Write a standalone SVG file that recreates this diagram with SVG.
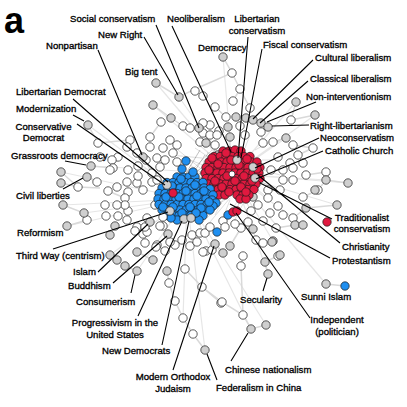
<svg xmlns="http://www.w3.org/2000/svg" width="407" height="407" viewBox="0 0 407 407">
<style>
.e{stroke:#d9d9d9;stroke-width:1.5;fill:none}
.f{stroke:#e6e6e6;stroke-width:1.2;fill:none}
.h{stroke:#333;stroke-opacity:0.16;stroke-width:1;fill:none}
circle{stroke:#1a1a1a;stroke-width:0.7}
.w{fill:#fff}
.g{fill:#cfcfcf}
.r{fill:#e0193f}
.b{fill:#1f8ff0}
.ld{stroke:#000;stroke-width:1.1;fill:none}
text{font-family:"Liberation Sans",Arial,sans-serif;font-size:9.6px;fill:#000;stroke:#000;stroke-width:0.32}
.c{text-anchor:middle}
</style>
<rect width="407" height="407" fill="#fff"/>
<g id="edges">
<path class="f" d="M233,174L156,83M233,174L223,57M233,174L296,102M233,174L315,115M233,174L326,180M233,174L348,183M233,174L337,205M233,174L326,284M187,199L61,172M187,199L63,205M187,199L88,125M187,199L110,255M187,199L183,318M187,199L205,350M187,199L251,329M187,199L67,226M233,174L286,138M233,174L303,225M187,199L137,271M233,174L268,274M233,174L153,105M233,174L91,166M187,199L266,325M233,174L273,241M187,199L84,213M233,174L179,97"/>
<path class="e" d="M156,83L179,97L193,90L232,73L223,57M232,73L240,89L250,108M153,105L171,118L183,126M199,128L218,155M88,125L98,143L130,140M91,166L113,168M87,177L97,182M61,172L78,187M61,183L78,187L100,188M63,205L84,213L87,220M67,226L87,220M110,235L115,226M137,252L153,260M110,255L117,260L125,266L137,271M167,271L169,283L175,301L183,318L193,334L205,350M185,269L202,287L222,302L243,315L251,329L266,325M268,274L265,262L280,255M326,284L345,286M296,102L291,120M315,115L291,120M313,148L298,155M348,183L326,180L318,190M337,205L306,208M295,225L276,228M303,225L293,218M273,241L263,243M233,101L240,89M215,107L226,117M161,122L150,137M130,140L127,147M118,157L100,157M112,160L110,170M143,157L152,173M125,198L108,191M147,218L150,222M157,245L165,251M190,246L197,242M203,252L212,250M215,244L223,252M230,246L241,228M256,240L263,243M278,256L280,255M243,256L241,266M221,303L202,287M306,175L326,172M293,145L313,148M286,138L273,142M261,132L263,143M271,170L283,170M303,197L318,190M280,190L268,190M306,208L293,218M253,229L241,228M241,266L243,315"/>
</g>
<g id="haze">
<path class="h" d="M207,160L200,195M210,165L195,185M205,170L205,200M212,175L190,190M215,158L185,180M210,185L198,205M220,190L205,205M218,180L210,210M205,155L190,178M200,150L185,175M215,150L200,175M208,178L180,190M225,195L215,215M230,200L222,220M240,200L235,215M245,198L250,210M250,195L262,205M258,190L270,200M262,182L275,190M263,170L280,175M262,160L278,160M255,150L268,143M245,148L250,135M230,148L228,135M218,152L210,140M210,158L195,148M203,165L185,158M205,175L190,165M200,180L188,172M225,200L200,215M212,190L182,205M214,167L175,200M220,185L165,195M222,160L180,185M226,170L195,205M202,158L170,155M205,148L200,140M200,168L178,150"/>
<path class="h" d="M207,160L200,195M210,165L195,185M205,170L205,200M212,175L190,190M215,158L185,180M210,185L198,205M220,190L205,205M218,180L210,210M205,155L190,178M200,150L185,175M212,150L192,170M208,152L196,186M203,160L210,200M215,170L180,178M218,163L196,198M225,155L205,190M230,198L210,222M238,200L220,230M222,203L200,225M245,200L232,225"/>
</g>
<g id="outer-nodes">
<circle class="w" cx="232" cy="73" r="4.2"/><circle class="w" cx="240" cy="89" r="4.2"/><circle class="w" cx="195" cy="91" r="4.2"/><circle class="w" cx="203" cy="96" r="4.2"/><circle class="w" cx="215" cy="107" r="4.2"/><circle class="w" cx="233" cy="101" r="4.2"/><circle class="w" cx="226" cy="117" r="4.2"/><circle class="w" cx="250" cy="108" r="4.2"/><circle class="w" cx="210" cy="125" r="4.2"/><circle class="w" cx="219" cy="131" r="4.2"/><circle class="w" cx="161" cy="122" r="4.2"/><circle class="w" cx="183" cy="126" r="4.2"/><circle class="w" cx="190" cy="128" r="4.2"/><circle class="w" cx="203" cy="123" r="4.2"/><circle class="w" cx="240" cy="126" r="4.2"/><circle class="w" cx="245" cy="135" r="4.2"/><circle class="w" cx="203" cy="133" r="4.2"/><circle class="w" cx="210" cy="135" r="4.2"/><circle class="w" cx="217" cy="135" r="4.2"/><circle class="w" cx="200" cy="142" r="4.2"/><circle class="w" cx="215" cy="145" r="4.2"/><circle class="w" cx="170" cy="140" r="4.2"/><circle class="w" cx="177" cy="145" r="4.2"/><circle class="w" cx="163" cy="148" r="4.2"/><circle class="w" cx="173" cy="153" r="4.2"/><circle class="w" cx="157" cy="158" r="4.2"/><circle class="w" cx="165" cy="160" r="4.2"/><circle class="w" cx="177" cy="162" r="4.2"/><circle class="w" cx="160" cy="167" r="4.2"/><circle class="w" cx="150" cy="147" r="4.2"/><circle class="w" cx="150" cy="137" r="4.2"/><circle class="w" cx="130" cy="140" r="4.2"/><circle class="w" cx="98" cy="143" r="4.2"/><circle class="w" cx="127" cy="147" r="4.2"/><circle class="w" cx="118" cy="157" r="4.2"/><circle class="w" cx="137" cy="153" r="4.2"/><circle class="w" cx="100" cy="157" r="4.2"/><circle class="w" cx="112" cy="160" r="4.2"/><circle class="w" cx="138" cy="166" r="4.2"/><circle class="w" cx="113" cy="168" r="4.2"/><circle class="w" cx="128" cy="170" r="4.2"/><circle class="w" cx="152" cy="173" r="4.2"/><circle class="w" cx="110" cy="170" r="4.2"/><circle class="w" cx="78" cy="187" r="4.2"/><circle class="w" cx="97" cy="182" r="4.2"/><circle class="w" cx="127" cy="182" r="4.2"/><circle class="w" cx="137" cy="183" r="4.2"/><circle class="w" cx="152" cy="182" r="4.2"/><circle class="w" cx="143" cy="190" r="4.2"/><circle class="w" cx="108" cy="191" r="4.2"/><circle class="w" cx="117" cy="187" r="4.2"/><circle class="w" cx="128" cy="192" r="4.2"/><circle class="w" cx="125" cy="198" r="4.2"/><circle class="w" cx="157" cy="180" r="4.2"/><circle class="w" cx="138" cy="176" r="4.2"/><circle class="w" cx="146" cy="160" r="4.2"/>
<circle class="w" cx="291" cy="120" r="4.2"/><circle class="w" cx="261" cy="132" r="4.2"/><circle class="w" cx="273" cy="142" r="4.2"/><circle class="w" cx="263" cy="143" r="4.2"/><circle class="w" cx="293" cy="145" r="4.2"/><circle class="w" cx="313" cy="148" r="4.2"/><circle class="w" cx="278" cy="157" r="4.2"/><circle class="w" cx="298" cy="155" r="4.2"/><circle class="w" cx="290" cy="163" r="4.2"/><circle class="w" cx="303" cy="163" r="4.2"/><circle class="w" cx="271" cy="170" r="4.2"/><circle class="w" cx="283" cy="170" r="4.2"/><circle class="w" cx="293" cy="168" r="4.2"/><circle class="w" cx="306" cy="175" r="4.2"/><circle class="w" cx="318" cy="190" r="4.2"/><circle class="w" cx="283" cy="180" r="4.2"/><circle class="w" cx="293" cy="180" r="4.2"/><circle class="w" cx="280" cy="190" r="4.2"/><circle class="w" cx="303" cy="197" r="4.2"/><circle class="w" cx="268" cy="190" r="4.2"/><circle class="w" cx="326" cy="172" r="4.2"/><circle class="w" cx="278" cy="206" r="4.2"/><circle class="w" cx="270" cy="213" r="4.2"/><circle class="w" cx="283" cy="215" r="4.2"/><circle class="w" cx="293" cy="218" r="4.2"/><circle class="w" cx="263" cy="221" r="4.2"/><circle class="w" cx="276" cy="228" r="4.2"/><circle class="w" cx="241" cy="228" r="4.2"/><circle class="w" cx="256" cy="240" r="4.2"/><circle class="w" cx="263" cy="243" r="4.2"/><circle class="w" cx="278" cy="256" r="4.2"/><circle class="w" cx="243" cy="256" r="4.2"/><circle class="w" cx="241" cy="266" r="4.2"/><circle class="w" cx="221" cy="303" r="4.2"/><circle class="w" cx="243" cy="315" r="4.2"/><circle class="w" cx="206" cy="251" r="4.2"/><circle class="w" cx="251" cy="211" r="4.2"/><circle class="w" cx="223" cy="221" r="4.2"/><circle class="w" cx="235" cy="224" r="4.2"/><circle class="w" cx="225" cy="227" r="4.2"/><circle class="w" cx="202" cy="287" r="4.2"/><circle class="w" cx="258" cy="205" r="4.2"/><circle class="w" cx="248" cy="222" r="4.2"/><circle class="w" cx="268" cy="198" r="4.2"/>
<circle class="w" cx="87" cy="220" r="4.2"/><circle class="w" cx="106" cy="216" r="4.2"/><circle class="w" cx="118" cy="216" r="4.2"/><circle class="w" cx="128" cy="211" r="4.2"/><circle class="w" cx="125" cy="205" r="4.2"/><circle class="w" cx="105" cy="205" r="4.2"/><circle class="w" cx="147" cy="218" r="4.2"/><circle class="w" cx="137" cy="227" r="4.2"/><circle class="w" cx="143" cy="234" r="4.2"/><circle class="w" cx="163" cy="226" r="4.2"/><circle class="w" cx="157" cy="245" r="4.2"/><circle class="w" cx="165" cy="251" r="4.2"/><circle class="w" cx="182" cy="240" r="4.2"/><circle class="w" cx="175" cy="245" r="4.2"/><circle class="w" cx="192" cy="235" r="4.2"/><circle class="w" cx="200" cy="233" r="4.2"/><circle class="w" cx="190" cy="246" r="4.2"/><circle class="w" cx="185" cy="269" r="4.2"/><circle class="w" cx="169" cy="283" r="4.2"/><circle class="w" cx="175" cy="301" r="4.2"/><circle class="w" cx="183" cy="318" r="4.2"/><circle class="w" cx="193" cy="334" r="4.2"/><circle class="w" cx="203" cy="252" r="4.2"/><circle class="w" cx="212" cy="250" r="4.2"/><circle class="w" cx="205" cy="233" r="4.2"/><circle class="w" cx="210" cy="227" r="4.2"/><circle class="w" cx="156" cy="247" r="4.2"/><circle class="w" cx="145" cy="243" r="4.2"/><circle class="w" cx="147" cy="232" r="4.2"/><circle class="w" cx="135" cy="231" r="4.2"/><circle class="w" cx="170" cy="242" r="4.2"/><circle class="w" cx="197" cy="242" r="4.2"/><circle class="w" cx="117" cy="205" r="4.2"/><circle class="w" cx="127" cy="220" r="4.2"/><circle class="w" cx="145" cy="227" r="4.2"/><circle class="w" cx="222" cy="302" r="4.2"/><circle class="w" cx="155" cy="205" r="4.2"/><circle class="w" cx="160" cy="226" r="4.2"/>
<circle class="g" cx="156" cy="83" r="4.2"/><circle class="g" cx="179" cy="97" r="4.2"/><circle class="g" cx="153" cy="105" r="4.2"/><circle class="g" cx="171" cy="118" r="4.2"/><circle class="g" cx="199" cy="128" r="4.2"/><circle class="g" cx="88" cy="125" r="4.2"/><circle class="g" cx="143" cy="157" r="4.2"/><circle class="g" cx="91" cy="166" r="4.2"/><circle class="g" cx="87" cy="177" r="4.2"/><circle class="g" cx="61" cy="172" r="4.2"/><circle class="g" cx="61" cy="183" r="4.2"/><circle class="g" cx="223" cy="57" r="4.2"/><circle class="g" cx="296" cy="102" r="4.2"/><circle class="g" cx="315" cy="115" r="4.2"/><circle class="g" cx="228" cy="127" r="4.2"/><circle class="g" cx="236" cy="117" r="4.2"/><circle class="g" cx="246" cy="118" r="4.2"/><circle class="g" cx="253" cy="120" r="4.2"/><circle class="g" cx="261" cy="123" r="4.2"/><circle class="g" cx="268" cy="127" r="4.2"/><circle class="g" cx="286" cy="138" r="4.2"/><circle class="g" cx="230" cy="137" r="4.2"/><circle class="g" cx="206" cy="143" r="4.2"/><circle class="g" cx="326" cy="180" r="4.2"/><circle class="g" cx="348" cy="183" r="4.2"/><circle class="g" cx="315" cy="190" r="4.2"/><circle class="g" cx="218" cy="155" r="4.2"/><circle class="g" cx="337" cy="205" r="4.2"/><circle class="g" cx="306" cy="208" r="4.2"/><circle class="g" cx="295" cy="225" r="4.2"/><circle class="g" cx="303" cy="225" r="4.2"/><circle class="g" cx="273" cy="241" r="4.2"/><circle class="g" cx="280" cy="255" r="4.2"/><circle class="g" cx="265" cy="262" r="4.2"/><circle class="g" cx="268" cy="274" r="4.2"/><circle class="g" cx="253" cy="229" r="4.2"/><circle class="g" cx="215" cy="244" r="4.2"/><circle class="g" cx="223" cy="253" r="4.2"/><circle class="g" cx="230" cy="246" r="4.2"/><circle class="g" cx="251" cy="329" r="4.2"/><circle class="g" cx="266" cy="325" r="4.2"/><circle class="g" cx="205" cy="350" r="4.2"/><circle class="g" cx="63" cy="205" r="4.2"/><circle class="g" cx="84" cy="213" r="4.2"/><circle class="g" cx="67" cy="226" r="4.2"/><circle class="g" cx="110" cy="235" r="4.2"/><circle class="g" cx="115" cy="226" r="4.2"/><circle class="g" cx="150" cy="222" r="4.2"/><circle class="g" cx="168" cy="234" r="4.2"/><circle class="g" cx="137" cy="252" r="4.2"/><circle class="g" cx="110" cy="255" r="4.2"/><circle class="g" cx="117" cy="260" r="4.2"/><circle class="g" cx="125" cy="266" r="4.2"/><circle class="g" cx="137" cy="271" r="4.2"/><circle class="g" cx="153" cy="260" r="4.2"/><circle class="g" cx="167" cy="271" r="4.2"/><circle class="g" cx="272" cy="242" r="4.2"/><circle class="g" cx="253" cy="197" r="4.2"/>
</g>
<g id="red-cluster">
<circle class="r" cx="223" cy="151" r="4.2"/><circle class="r" cx="229" cy="151" r="4.2"/><circle class="r" cx="235" cy="150" r="4.2"/><circle class="r" cx="241" cy="151" r="4.2"/>
<circle class="r" cx="214" cy="156.5" r="4.2"/><circle class="r" cx="220" cy="156.5" r="4.2"/><circle class="r" cx="226" cy="156.5" r="4.2"/><circle class="r" cx="232" cy="156.5" r="4.2"/><circle class="r" cx="238" cy="156.5" r="4.2"/><circle class="r" cx="244" cy="156.5" r="4.2"/><circle class="r" cx="250" cy="156.5" r="4.2"/>
<circle class="r" cx="209" cy="162" r="4.2"/><circle class="r" cx="215" cy="162" r="4.2"/><circle class="r" cx="221" cy="162" r="4.2"/><circle class="r" cx="227" cy="162" r="4.2"/><circle class="r" cx="233" cy="162" r="4.2"/><circle class="r" cx="239" cy="162" r="4.2"/><circle class="r" cx="245" cy="162" r="4.2"/><circle class="r" cx="251" cy="162" r="4.2"/><circle class="r" cx="257" cy="162" r="4.2"/>
<circle class="r" cx="206" cy="167.5" r="4.2"/><circle class="r" cx="212" cy="167.5" r="4.2"/><circle class="r" cx="218" cy="167.5" r="4.2"/><circle class="r" cx="224" cy="167.5" r="4.2"/><circle class="r" cx="230" cy="167.5" r="4.2"/><circle class="r" cx="236" cy="167.5" r="4.2"/><circle class="r" cx="242" cy="167.5" r="4.2"/><circle class="r" cx="248" cy="167.5" r="4.2"/><circle class="r" cx="254" cy="167.5" r="4.2"/><circle class="r" cx="260" cy="167.5" r="4.2"/>
<circle class="r" cx="205" cy="173" r="4.2"/><circle class="r" cx="211" cy="173" r="4.2"/><circle class="r" cx="217" cy="173" r="4.2"/><circle class="r" cx="223" cy="173" r="4.2"/><circle class="r" cx="229" cy="173" r="4.2"/><circle class="r" cx="235" cy="173" r="4.2"/><circle class="r" cx="241" cy="173" r="4.2"/><circle class="r" cx="247" cy="173" r="4.2"/><circle class="r" cx="253" cy="173" r="4.2"/><circle class="r" cx="259" cy="173" r="4.2"/>
<circle class="r" cx="206" cy="178.5" r="4.2"/><circle class="r" cx="212" cy="178.5" r="4.2"/><circle class="r" cx="218" cy="178.5" r="4.2"/><circle class="r" cx="224" cy="178.5" r="4.2"/><circle class="r" cx="230" cy="178.5" r="4.2"/><circle class="r" cx="236" cy="178.5" r="4.2"/><circle class="r" cx="242" cy="178.5" r="4.2"/><circle class="r" cx="248" cy="178.5" r="4.2"/><circle class="r" cx="254" cy="178.5" r="4.2"/><circle class="r" cx="260" cy="178.5" r="4.2"/>
<circle class="r" cx="208" cy="184" r="4.2"/><circle class="r" cx="214" cy="184" r="4.2"/><circle class="r" cx="220" cy="184" r="4.2"/><circle class="r" cx="226" cy="184" r="4.2"/><circle class="r" cx="232" cy="184" r="4.2"/><circle class="r" cx="238" cy="184" r="4.2"/><circle class="r" cx="244" cy="184" r="4.2"/><circle class="r" cx="250" cy="184" r="4.2"/><circle class="r" cx="256" cy="184" r="4.2"/>
<circle class="r" cx="212" cy="189.5" r="4.2"/><circle class="r" cx="218" cy="189.5" r="4.2"/><circle class="r" cx="224" cy="189.5" r="4.2"/><circle class="r" cx="230" cy="189.5" r="4.2"/><circle class="r" cx="236" cy="189.5" r="4.2"/><circle class="r" cx="242" cy="189.5" r="4.2"/><circle class="r" cx="248" cy="189.5" r="4.2"/><circle class="r" cx="254" cy="189.5" r="4.2"/>
<circle class="r" cx="219" cy="195" r="4.2"/><circle class="r" cx="225" cy="195" r="4.2"/><circle class="r" cx="237" cy="195" r="4.2"/><circle class="r" cx="243" cy="195" r="4.2"/><circle class="r" cx="249" cy="195" r="4.2"/><circle class="r" cx="240" cy="199" r="4.2"/><circle class="r" cx="246" cy="199" r="4.2"/>
<circle class="r" cx="226" cy="153" r="4.2"/><circle class="r" cx="247" cy="159" r="4.2"/><circle class="r" cx="218" cy="164" r="4.2"/><circle class="r" cx="239" cy="165" r="4.2"/><circle class="r" cx="257" cy="169" r="4.2"/><circle class="r" cx="209" cy="170" r="4.2"/><circle class="r" cx="227" cy="176" r="4.2"/><circle class="r" cx="244" cy="176" r="4.2"/><circle class="r" cx="215" cy="181" r="4.2"/><circle class="r" cx="235" cy="181" r="4.2"/><circle class="r" cx="252" cy="181" r="4.2"/><circle class="r" cx="222" cy="187" r="4.2"/><circle class="r" cx="241" cy="187" r="4.2"/><circle class="r" cx="229" cy="192" r="4.2"/><circle class="r" cx="246" cy="192" r="4.2"/><circle class="r" cx="212" cy="158" r="4.2"/><circle class="r" cx="231" cy="160" r="4.2"/>
<circle class="g" cx="237" cy="160" r="4.2"/><circle class="g" cx="253" cy="167" r="4.2"/><circle class="g" cx="255" cy="178" r="4.2"/><circle class="g" cx="210" cy="192" r="4.2"/><circle class="w" cx="232" cy="174" r="3"/>
</g>
<g id="blue-cluster">
<circle class="b" cx="177" cy="177" r="4.2"/><circle class="b" cx="183" cy="177" r="4.2"/><circle class="b" cx="189" cy="177" r="4.2"/><circle class="b" cx="195" cy="177" r="4.2"/>
<circle class="b" cx="167" cy="182.5" r="4.2"/><circle class="b" cx="173" cy="182.5" r="4.2"/><circle class="b" cx="179" cy="182.5" r="4.2"/><circle class="b" cx="185" cy="182.5" r="4.2"/><circle class="b" cx="191" cy="182.5" r="4.2"/><circle class="b" cx="197" cy="182.5" r="4.2"/><circle class="b" cx="203" cy="182.5" r="4.2"/>
<circle class="b" cx="162" cy="188" r="4.2"/><circle class="b" cx="168" cy="188" r="4.2"/><circle class="b" cx="174" cy="188" r="4.2"/><circle class="b" cx="180" cy="188" r="4.2"/><circle class="b" cx="186" cy="188" r="4.2"/><circle class="b" cx="192" cy="188" r="4.2"/><circle class="b" cx="198" cy="188" r="4.2"/><circle class="b" cx="204" cy="188" r="4.2"/><circle class="b" cx="210" cy="189" r="4.2"/>
<circle class="b" cx="159" cy="193.5" r="4.2"/><circle class="b" cx="165" cy="193.5" r="4.2"/><circle class="b" cx="171" cy="193.5" r="4.2"/><circle class="b" cx="177" cy="193.5" r="4.2"/><circle class="b" cx="183" cy="193.5" r="4.2"/><circle class="b" cx="189" cy="193.5" r="4.2"/><circle class="b" cx="195" cy="193.5" r="4.2"/><circle class="b" cx="201" cy="193.5" r="4.2"/><circle class="b" cx="207" cy="193.5" r="4.2"/><circle class="b" cx="213" cy="195" r="4.2"/>
<circle class="b" cx="158" cy="199" r="4.2"/><circle class="b" cx="164" cy="199" r="4.2"/><circle class="b" cx="170" cy="199" r="4.2"/><circle class="b" cx="176" cy="199" r="4.2"/><circle class="b" cx="182" cy="199" r="4.2"/><circle class="b" cx="188" cy="199" r="4.2"/><circle class="b" cx="194" cy="199" r="4.2"/><circle class="b" cx="200" cy="199" r="4.2"/><circle class="b" cx="206" cy="199" r="4.2"/><circle class="b" cx="212" cy="200" r="4.2"/><circle class="b" cx="216" cy="203" r="4.2"/>
<circle class="b" cx="159" cy="204.5" r="4.2"/><circle class="b" cx="165" cy="204.5" r="4.2"/><circle class="b" cx="171" cy="204.5" r="4.2"/><circle class="b" cx="177" cy="204.5" r="4.2"/><circle class="b" cx="183" cy="204.5" r="4.2"/><circle class="b" cx="189" cy="204.5" r="4.2"/><circle class="b" cx="195" cy="204.5" r="4.2"/><circle class="b" cx="201" cy="204.5" r="4.2"/><circle class="b" cx="207" cy="204.5" r="4.2"/><circle class="b" cx="213" cy="206" r="4.2"/>
<circle class="b" cx="162" cy="210" r="4.2"/><circle class="b" cx="168" cy="210" r="4.2"/><circle class="b" cx="174" cy="210" r="4.2"/><circle class="b" cx="180" cy="210" r="4.2"/><circle class="b" cx="186" cy="210" r="4.2"/><circle class="b" cx="192" cy="210" r="4.2"/><circle class="b" cx="198" cy="210" r="4.2"/><circle class="b" cx="204" cy="210" r="4.2"/><circle class="b" cx="210" cy="210" r="4.2"/>
<circle class="b" cx="167" cy="215.5" r="4.2"/><circle class="b" cx="173" cy="215.5" r="4.2"/><circle class="b" cx="179" cy="215.5" r="4.2"/><circle class="b" cx="185" cy="215.5" r="4.2"/><circle class="b" cx="191" cy="215.5" r="4.2"/><circle class="b" cx="197" cy="215.5" r="4.2"/><circle class="b" cx="203" cy="215.5" r="4.2"/>
<circle class="b" cx="177" cy="220" r="4.2"/><circle class="b" cx="199" cy="220" r="4.2"/>
<circle class="b" cx="181" cy="179" r="4.2"/><circle class="b" cx="195" cy="185" r="4.2"/><circle class="b" cx="172" cy="186" r="4.2"/><circle class="b" cx="186" cy="191" r="4.2"/><circle class="b" cx="204" cy="191" r="4.2"/><circle class="b" cx="166" cy="197" r="4.2"/><circle class="b" cx="179" cy="197" r="4.2"/><circle class="b" cx="197" cy="196" r="4.2"/><circle class="b" cx="209" cy="202" r="4.2"/><circle class="b" cx="173" cy="207" r="4.2"/><circle class="b" cx="190" cy="207" r="4.2"/><circle class="b" cx="201" cy="208" r="4.2"/><circle class="b" cx="163" cy="207" r="4.2"/><circle class="b" cx="182" cy="213" r="4.2"/><circle class="b" cx="196" cy="213" r="4.2"/><circle class="b" cx="171" cy="218" r="4.2"/>
<circle class="r" cx="173" cy="193" r="4.2"/><circle class="g" cx="167" cy="185" r="4.2"/><circle class="g" cx="170" cy="211" r="4.2"/><circle class="g" cx="184" cy="219" r="4.2"/><circle class="g" cx="191" cy="218" r="4.2"/><circle class="w" cx="163" cy="217" r="4.2"/>
<circle class="b" cx="186" cy="161" r="4.2"/><circle class="b" cx="182" cy="169" r="4.2"/><circle class="b" cx="193" cy="172" r="4.2"/><circle class="b" cx="217" cy="232" r="4.2"/><circle class="b" cx="228" cy="215" r="4.2"/><circle class="r" cx="233" cy="212" r="4.2"/><circle class="r" cx="237" cy="211" r="4.2"/>
</g>
<g id="sunni-pair">
<circle class="g" cx="326" cy="284" r="4.2"/><circle class="b" cx="345" cy="286" r="4.2"/>
</g>
<g id="tradcons-node"><circle class="r" cx="327" cy="222" r="4.2"/></g>
<g id="connectors">
<path class="ld" d="M156,25L199,128M172,26L231,152M248,37L238,158M262,49L241,158M313,60L253,119M308,81L260,123M316,102L267,122M309,125L272,126M319,138L255,168M323,151L256,179M144,37L178,95M98,50L142,155M73,99L168,182M73,115L84,121M77,124L165,185M65,161L86,165M63,189L83,178M53,249L168,212M98,272L148,224M113,283L167,236M131,293L135,275M138,316L182,221M162,345L189,221M173,370L214,246M217,380L207,354M231,361L248,333M263,291L267,278M310,318L236,213M330,258L230,204M340,243L258,175M332,219L260,183"/>
</g>
<g id="labels">
<text x="4" y="33" style="font-size:36px;font-weight:bold;stroke:none">a</text>
<text x="70" y="22">Social conservatism</text>
<text x="167" y="22">Neoliberalism</text>
<text class="c" x="257" y="21.5">Libertarian</text>
<text class="c" x="257" y="33.5">conservatism</text>
<text x="198" y="51">Democracy</text>
<text x="263" y="47.5">Fiscal conservatism</text>
<text x="315" y="60.5">Cultural liberalism</text>
<text x="310" y="81.5">Classical liberalism</text>
<text x="306" y="99.5">Non-interventionism</text>
<text x="310" y="128.5">Right-libertarianism</text>
<text x="320" y="140.5">Neoconservatism</text>
<text x="325" y="153.5">Catholic Church</text>
<text x="98" y="37.5">New Right</text>
<text x="46" y="48.5">Nonpartisan</text>
<text x="125" y="74.5">Big tent</text>
<text x="16" y="94.5">Libertarian Democrat</text>
<text x="16" y="111.5">Modernization</text>
<text class="c" x="43.5" y="129.5">Conservative</text>
<text class="c" x="43.5" y="140.5">Democrat</text>
<text x="11" y="158.5">Grassroots democracy</text>
<text x="16" y="198.5">Civil liberties</text>
<text x="17" y="235.5">Reformism</text>
<text x="16" y="258.5">Third Way (centrism)</text>
<text x="73" y="274.5">Islam</text>
<text x="68" y="288.5">Buddhism</text>
<text x="76" y="304.5">Consumerism</text>
<text class="c" x="115" y="325.5">Progressivism in the</text>
<text class="c" x="115" y="337.5">United States</text>
<text x="102" y="353.5">New Democrats</text>
<text class="c" x="173" y="379.5">Modern Orthodox</text>
<text class="c" x="173" y="391.5">Judaism</text>
<text x="216" y="390.5">Federalism in China</text>
<text x="225" y="372.5">Chinese nationalism</text>
<text x="240" y="302.5">Secularity</text>
<text x="301" y="299.5">Sunni Islam</text>
<text class="c" x="337" y="322.5">Independent</text>
<text class="c" x="337" y="334.5">(politician)</text>
<text class="c" x="362" y="220.5">Traditionalist</text>
<text class="c" x="362" y="231.5">conservatism</text>
<text x="342" y="249.5">Christianity</text>
<text x="332" y="263.5">Protestantism</text>
</g>
</svg>
